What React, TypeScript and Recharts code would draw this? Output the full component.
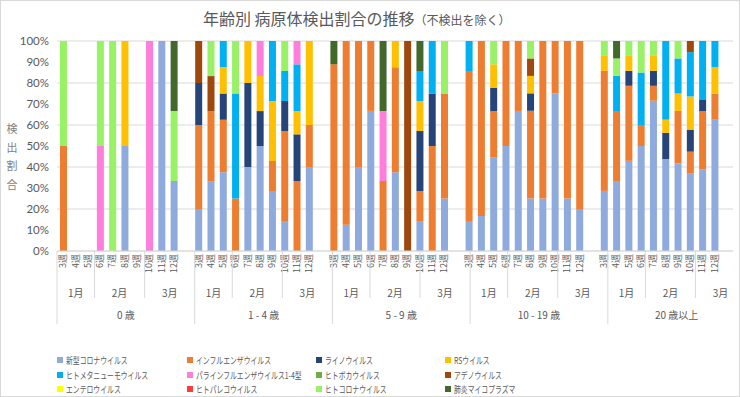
import React from 'react';
import { BarChart, Bar, XAxis, YAxis, CartesianGrid } from 'recharts';

const weeks = ['3週', '4週', '5週', '6週', '7週', '8週', '9週', '10週', '11週', '12週', ''];
const weekMonths = ['1月', '1月', '1月', '2月', '2月', '2月', '2月', '3月', '3月', '3月', '3月'];
const ageGroups = ['0 歳', '1 - 4 歳', '5 - 9 歳', '10 - 19 歳', '20 歳以上'];
const yTicks = [0, 0.1, 0.2, 0.3, 0.4, 0.5, 0.6, 0.7, 0.8, 0.9, 1];

// detection share (%) per week; 11 slots per age group (last slot blank)
const corona = [
  0, 0, 0, 0, 0, 50, 0, 0, 100, 33.3, 0,
  20, 33.3, 37.5, 0, 40, 50, 28.6, 14.3, 0, 40, 0,
  0, 12.5, 40, 66.7, 0, 37.5, 0, 14.3, 0, 25, 0,
  14.3, 16.7, 44.4, 50, 66.7, 25, 25, 75, 25, 20, 0,
  28.6, 33.3, 42.9, 50, 71.4, 43.8, 41.7, 36.8, 38.9, 62.5, 0,
];
const influenza = [
  50, 0, 0, 0, 0, 0, 0, 0, 0, 0, 0,
  40, 33.3, 25, 25, 0, 0, 14.3, 42.9, 33.3, 20, 0,
  88.9, 87.5, 60, 33.3, 33.3, 50, 0, 14.3, 50, 50, 0,
  71.4, 83.3, 22.2, 50, 33.3, 41.7, 75, 25, 75, 80, 0,
  57.1, 33.3, 35.7, 10, 7.1, 0, 25, 10.5, 27.8, 12.5, 0,
];
const rhino = [
  0, 0, 0, 0, 0, 0, 0, 0, 0, 0, 0,
  20, 0, 12.5, 0, 40, 16.7, 0, 14.3, 22.2, 0, 0,
  0, 0, 0, 0, 0, 0, 0, 28.6, 25, 0, 0,
  0, 0, 11.1, 0, 0, 8.3, 0, 0, 0, 0, 0,
  0, 0, 7.1, 0, 7.1, 12.5, 0, 10.5, 5.6, 0, 0,
];
const rsv = [
  0, 0, 0, 0, 0, 50, 0, 0, 0, 0, 0,
  0, 0, 12.5, 0, 20, 16.7, 28.6, 0, 11.1, 40, 0,
  0, 0, 0, 0, 0, 12.5, 0, 14.3, 0, 0, 0,
  0, 0, 11.1, 0, 0, 8.3, 0, 0, 0, 0, 0,
  7.1, 0, 7.1, 0, 7.1, 6.3, 8.3, 15.8, 0, 12.5, 0,
];
const hmpv = [
  0, 0, 0, 0, 0, 0, 0, 0, 0, 0, 0,
  0, 0, 12.5, 50, 0, 0, 28.6, 14.3, 22.2, 0, 0,
  0, 0, 0, 0, 0, 0, 0, 14.3, 25, 0, 0,
  14.3, 0, 0, 0, 0, 0, 0, 0, 0, 0, 0,
  0, 16.7, 0, 25, 0, 37.5, 16.7, 21.1, 27.8, 12.5, 0,
];
const para = [
  0, 0, 0, 50, 0, 0, 0, 100, 0, 0, 0,
  0, 0, 0, 0, 0, 16.7, 0, 0, 11.1, 0, 0,
  0, 0, 0, 0, 33.3, 0, 0, 0, 0, 0, 0,
  0, 0, 0, 0, 0, 0, 0, 0, 0, 0, 0,
  0, 0, 0, 0, 0, 0, 0, 0, 0, 0, 0,
];
const boca = new Array(55).fill(0);
const adeno = [
  0, 0, 0, 0, 0, 0, 0, 0, 0, 0, 0,
  20, 16.7, 0, 0, 0, 0, 0, 0, 0, 0, 0,
  0, 0, 0, 0, 0, 0, 100, 0, 0, 0, 0,
  0, 0, 0, 0, 0, 8.3, 0, 0, 0, 0, 0,
  0, 0, 0, 0, 0, 0, 0, 5.3, 0, 0, 0,
];
const entero = new Array(55).fill(0);
const parecho = new Array(55).fill(0);
const hcov = [
  50, 0, 0, 50, 100, 0, 0, 0, 0, 33.3, 0,
  0, 16.7, 0, 25, 0, 0, 0, 14.3, 0, 0, 0,
  0, 0, 0, 0, 0, 0, 0, 0, 0, 25, 0,
  0, 0, 11.1, 0, 0, 8.3, 0, 0, 0, 0, 0,
  7.1, 8.3, 7.1, 15, 7.1, 0, 8.3, 0, 0, 0, 0,
];
const myco = [
  0, 0, 0, 0, 0, 0, 0, 0, 0, 33.3, 0,
  0, 0, 0, 0, 0, 0, 0, 0, 0, 0, 0,
  11.1, 0, 0, 0, 33.3, 0, 0, 14.3, 0, 0, 0,
  0, 0, 0, 0, 0, 0, 0, 0, 0, 0, 0,
  0, 8.3, 0, 0, 0, 0, 0, 0, 0, 0, 0,
];

const series = [
  { key: 'corona', name: '新型コロナウイルス', color: '#8FAADC', values: corona },
  { key: 'influenza', name: 'インフルエンザウイルス', color: '#ED7D31', values: influenza },
  { key: 'rhino', name: 'ライノウイルス', color: '#264478', values: rhino },
  { key: 'rsv', name: 'RSウイルス', color: '#FFC000', values: rsv },
  { key: 'hmpv', name: 'ヒトメタニューモウイルス', color: '#00B0F0', values: hmpv },
  { key: 'para', name: 'パラインフルエンザウイルス1-4型', color: '#FF7DDB', values: para },
  { key: 'boca', name: 'ヒトボカウイルス', color: '#70AD47', values: boca },
  { key: 'adeno', name: 'アデノウイルス', color: '#9E480E', values: adeno },
  { key: 'entero', name: 'エンテロウイルス', color: '#FFFF00', values: entero },
  { key: 'parecho', name: 'ヒトパレコウイルス', color: '#FF3B3B', values: parecho },
  { key: 'hcov', name: 'ヒトコロナウイルス', color: '#99F266', values: hcov },
  { key: 'myco', name: '肺炎マイコプラズマ', color: '#43682B', values: myco },
];

const groupSize = weeks.length;
const rows = ageGroups.flatMap((age, g) =>
  weeks.map((week, w) => {
    const i = g * groupSize + w;
    const row: any = { key: `${g}-${w}`, age, week, month: weekMonths[w] };
    series.forEach((s) => (row[s.key] = s.values[i]));
    return row;
  })
);

// boundaries / centres for the month and age rows, in category units
const monthBounds: number[] = [];
const monthCenters: Record<number, string> = {};
const ageCenters: Record<number, string> = {};
ageGroups.forEach((age, g) => {
  const base = g * groupSize;
  ageCenters[base + groupSize / 2] = age;
  let start = 0;
  for (let w = 1; w <= groupSize; w++) {
    if (w === groupSize || weekMonths[w] !== weekMonths[start]) {
      monthBounds.push(base + start);
      monthCenters[base + (start + w) / 2] = weekMonths[start];
      start = w;
    }
  }
});
monthBounds.push(ageGroups.length * groupSize);
const groupTicks = [
  ...monthBounds,
  ...Object.keys(monthCenters).map(Number),
  ...Object.keys(ageCenters).map(Number),
];

const txt = '#595959';
const jpFont = "'Noto Sans CJK JP', 'Noto Sans', sans-serif";
const WEEK_AXIS_H = 32;

const WeekTick = (props: any) => {
  const { x, y, payload } = props;
  const idx = payload?.index ?? props.index;
  const row = rows[idx];
  if (!row || !row.week) return null;
  return (
    <text
      transform={`translate(${x},${y + 3}) rotate(-90)`}
      textAnchor="end"
      dy="0.35em"
      fontSize={9}
      fill={txt}
      fontFamily={jpFont}
    >
      {row.week}
    </text>
  );
};

const GroupTick = (props: any) => {
  const { x, y, payload } = props;
  const v = payload.value;
  if (monthBounds.includes(v)) {
    const long = v % groupSize === 0;
    return (
      <line x1={x} x2={x} y1={y - WEEK_AXIS_H} y2={y + (long ? 41 : 15)} stroke="#D9D9D9" strokeWidth={1} />
    );
  }
  if (monthCenters[v]) {
    return (
      <text x={x} y={y + 10} dy="0.35em" textAnchor="middle" fontSize={10} fill={txt} fontFamily={jpFont}>
        {monthCenters[v]}
      </text>
    );
  }
  if (ageCenters[v]) {
    return (
      <text x={x} y={y + 32} dy="0.35em" textAnchor="middle" fontSize={10} fill={txt} fontFamily={jpFont}>
        {ageCenters[v]}
      </text>
    );
  }
  return null;
};

export default function App() {
  return (
    <div
      style={{
        position: 'absolute',
        left: 0,
        top: 0,
        width: 740,
        height: 397,
        background: '#fff',
        border: '1px solid #D9D9D9',
        boxSizing: 'border-box',
        fontFamily: jpFont,
      }}
    >
      <div style={{ position: 'absolute', left: 202, top: 5, color: txt, whiteSpace: 'nowrap' }}>
        <span style={{ fontSize: 16 }}>年齢別 病原体検出割合の推移</span>
        <span style={{ fontSize: 12 }}>（不検出を除く）</span>
      </div>
      {'検出割合'.split('').map((c, i) => (
        <span
          key={c}
          style={{
            position: 'absolute',
            left: 4,
            top: 120 + i * 18.5,
            width: 14,
            textAlign: 'center',
            fontSize: 11,
            lineHeight: '14px',
            color: '#7F7F7F',
          }}
        >
          {c}
        </span>
      ))}
      <div style={{ position: 'absolute', top: 0, left: -1 }}>
        <BarChart
          width={740}
          height={397}
          data={rows}
          stackOffset="expand"
          barSize={7}
          margin={{ top: 40, right: 7, left: 7, bottom: 70 }}
        >
          <CartesianGrid vertical={false} stroke="#D9D9D9" />
          <XAxis
            dataKey="key"
            interval={0}
            height={WEEK_AXIS_H}
            tick={<WeekTick />}
            tickLine={false}
            tickSize={0}
            tickMargin={0}
            axisLine={{ stroke: '#D9D9D9' }}
          />
          <XAxis
            xAxisId="grp"
            type="number"
            domain={[0, ageGroups.length * groupSize]}
            allowDataOverflow
            ticks={groupTicks}
            interval={0}
            height={45}
            tick={<GroupTick />}
            tickLine={false}
            tickSize={0}
            tickMargin={0}
            axisLine={false}
          />
          <YAxis
            width={50}
            domain={[0, 1]}
            ticks={yTicks}
            tickFormatter={(v: number) => `${Math.round(v * 100)}%`}
            axisLine={false}
            tickLine={false}
            tick={{ fill: txt, fontSize: 11.5, fontFamily: "Lato, 'Noto Sans', sans-serif" }}
          />
          {series.map((s) => (
            <Bar key={s.key} dataKey={s.key} name={s.name} stackId="a" fill={s.color} isAnimationActive={false} />
          ))}
        </BarChart>
      </div>
      <div
        style={{
          position: 'absolute',
          left: 56,
          top: 352,
          display: 'grid',
          gridTemplateColumns: '130px 129px 129px 129px',
          fontSize: 9.5,
          color: txt,
        }}
      >
        {series.map((s) => (
          <div key={s.key} style={{ display: 'flex', alignItems: 'center', height: 14.5, whiteSpace: 'nowrap' }}>
            <span style={{ display: 'inline-block', width: 6, height: 6, background: s.color, marginRight: 3, flex: 'none' }} />
            <span style={{ display: 'inline-block', transform: 'scaleX(0.72)', transformOrigin: 'left center' }}>{s.name}</span>
          </div>
        ))}
      </div>
    </div>
  );
}
